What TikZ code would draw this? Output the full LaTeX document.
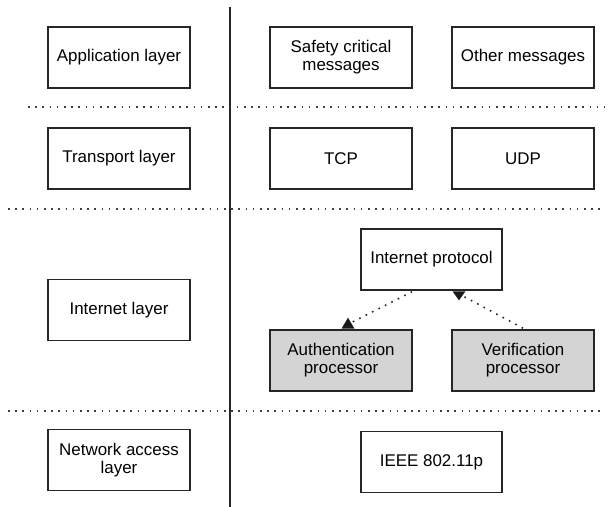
\documentclass[tikz,border=0pt]{standalone}
\usepackage{fontspec}
\setmainfont{Liberation Sans}
\usetikzlibrary{calc}
\definecolor{boxgray}{RGB}{212,212,212}
\tikzset{
  box/.style={draw=black!85, line width=1.2pt, minimum width=106.5pt, minimum height=45.75pt,
    inner sep=0pt, align=center, font=\fontsize{12.7}{13.6}\selectfont},
  graybox/.style={box, fill=boxgray},
  sepline/.style={line width=1.2pt, dash pattern=on 1.2pt off 4.2pt, black!75},
  conn/.style={line width=1.2pt, dash pattern=on 1.2pt off 4.2pt, black!85},
  tipfill/.style={fill=black!90},
}
\begin{document}
\begin{tikzpicture}[x=0.75pt,y=-0.75pt]
\useasboundingbox (0,0) rectangle (608,507);
% separators
\draw[line width=1.5pt, black!85] (230,7) coordinate (vtop) -- (230,507) coordinate (vbot);
\draw[sepline] (28,107) coordinate (s1a) -- (605,107) coordinate (s1b);
\draw[sepline] (8,209) coordinate (s2a) -- (605,209) coordinate (s2b);
\draw[sepline] (8,411) coordinate (s3a) -- (605,411) coordinate (s3b);
% left column
\node[box] (app) at (119,57.5) {Application layer};
\node[box] (tra) at (119,158.5) {Transport layer};
\node[box] (inl) at (119,310) {Internet layer};
\node[box] (net) at (119,460) {Network access\\layer};
% right side
\node[box] (saf) at (341,57.5) {Safety critical\\messages};
\node[box] (oth) at (523,57.5) {Other messages};
\node[box] (tcp) at (341,158.5) {TCP};
\node[box] (udp) at (523,158.5) {UDP};
\node[box, minimum width=105.75pt] (ip) at (431.5,259.5) {Internet protocol};
\node[graybox] (aut) at (341,360.5) {Authentication\\processor};
\node[graybox] (ver) at (523,360.5) {Verification\\processor};
\node[box, minimum width=105.75pt] (ieee) at (431.5,462) {IEEE 802.11p};
% connectors
\draw[conn] ($(ip.south)+(-19.5,1)$) -- ($(aut.north)+(11,-7)$);
\draw[conn] ($(ver.north)+(0,-1)$) -- ($(ip.south)+(31,5)$);
% triangle heads sitting on the box edges
\fill[tipfill] ($(aut.north)+(0.5,-0.5)$) -- ++(13,0) -- ++(-6.5,-11) -- cycle;
\fill[tipfill] ($(ip.south)+(21,0.5)$) -- ++(13,0) -- ++(-6.5,9) -- cycle;
\end{tikzpicture}
\end{document}
